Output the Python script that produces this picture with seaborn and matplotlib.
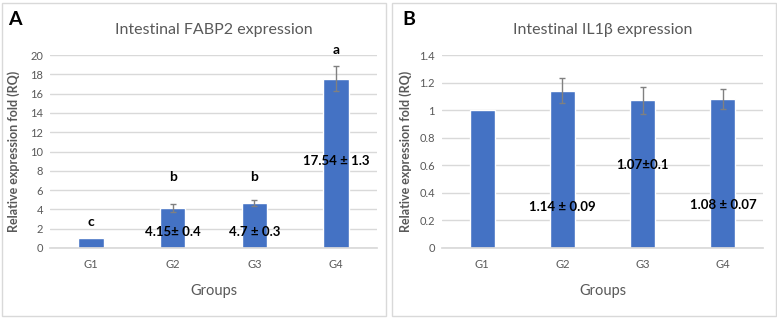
import numpy as np
import pandas as pd
import seaborn as sns
import matplotlib.pyplot as plt
from matplotlib.patches import Rectangle

sns.set_theme(style="white")
plt.rcParams['font.family'] = ['Lato', 'DejaVu Sans']

# data
groups = ["G1", "G2", "G3", "G4"]
fabp2_mean = [1.0, 4.15, 4.7, 17.54]
fabp2_err = [0.0, 0.4, 0.3, 1.3]
fabp2_letters = ["c", "b", "b", "a"]
fabp2_letter_y = [2.7, 7.4, 7.4, 20.5]
fabp2_text = ["", "4.15\u00b1 0.4", "4.7 \u00b1 0.3", "17.54 \u00b1 1.3"]
fabp2_text_y = [0, 1.65, 1.65, 9.0]

il1b_mean = [1.0, 1.14, 1.07, 1.08]
il1b_err = [0.0, 0.09, 0.1, 0.07]
il1b_text = ["", "1.14 \u00b1 0.09", "1.07\u00b10.1", "1.08 \u00b1 0.07"]
il1b_text_y = [0, 0.30, 0.60, 0.31]

bar_color = "#4472C4"
gray = "#595959"
grid = "#d9d9d9"

fig = plt.figure(figsize=(7.77, 3.18), dpi=100)

# panel frames
for x0 in (2 / 777, 392 / 777):
    fig.add_artist(Rectangle((x0, 2 / 318), 384 / 777, 313 / 318, transform=fig.transFigure,
                             fill=False, edgecolor=grid, lw=1))


def panel(ax, mean, err, ymax, step, title, letter, letter_x, texts, text_y, lab_x):
    df = pd.DataFrame({"group": groups, "value": mean})
    sns.barplot(data=df, x="group", y="value", color=bar_color, width=0.31,
                saturation=1, errorbar=None, ax=ax)
    idx = [i for i in range(len(groups)) if err[i] > 0]
    ax.errorbar(idx, [mean[i] for i in idx], yerr=[err[i] for i in idx], fmt="none",
                ecolor="#808080", elinewidth=1, capsize=2.5, capthick=1)
    ax.set_ylim(0, ymax)
    ax.set_xlim(-0.5, 3.5)
    ax.set_yticks(np.arange(0, ymax + step / 2, step))
    ax.yaxis.grid(True, color=grid, lw=1)
    ax.set_axisbelow(True)
    for s in ["top", "right", "left"]:
        ax.spines[s].set_visible(False)
    ax.spines["bottom"].set_color(grid)
    ax.tick_params(axis="both", colors=gray, labelsize=8, length=0)
    ax.tick_params(axis="y", pad=5)
    ax.tick_params(axis="x", pad=8)
    ax.set_xlabel("Groups", color=gray, fontsize=10.5, labelpad=10)
    ax.set_ylabel("Relative expression fold (RQ)", color=gray, fontsize=9,
                  fontweight="bold")
    ax.yaxis.set_label_coords(lab_x, 0.5)
    ax.set_title(title, color=gray, fontsize=11.5, pad=15)
    fig.text(letter_x, 0.94, letter, fontsize=14, fontweight="bold", color="black",
             ha="left", va="center")
    for i, t in enumerate(texts):
        if t:
            ax.text(i, text_y[i], t, ha="center", va="center", fontsize=9.5,
                    fontweight="bold", color="black")


axA = fig.add_axes([50 / 777, 1 - 248 / 318, 327 / 777, 193 / 318])
panel(axA, fabp2_mean, fabp2_err, 20, 2, "Intestinal FABP2 expression", "A", 8 / 777,
      fabp2_text, fabp2_text_y, (20 - 50) / 327)
for i, l in enumerate(fabp2_letters):
    axA.text(i, fabp2_letter_y[i], l, ha="center", va="center", fontsize=10,
             fontweight="bold", color="black", clip_on=False)
axA.set_yticklabels([str(v) for v in range(0, 21, 2)])

axB = fig.add_axes([442 / 777, 1 - 248 / 318, 321 / 777, 193 / 318])
panel(axB, il1b_mean, il1b_err, 1.4, 0.2, "Intestinal IL1\u03b2 expression", "B", 402 / 777,
      il1b_text, il1b_text_y, (412 - 442) / 321)
axB.set_yticklabels(["0", "0.2", "0.4", "0.6", "0.8", "1", "1.2", "1.4"])

fig.savefig("out.png", dpi=100)
